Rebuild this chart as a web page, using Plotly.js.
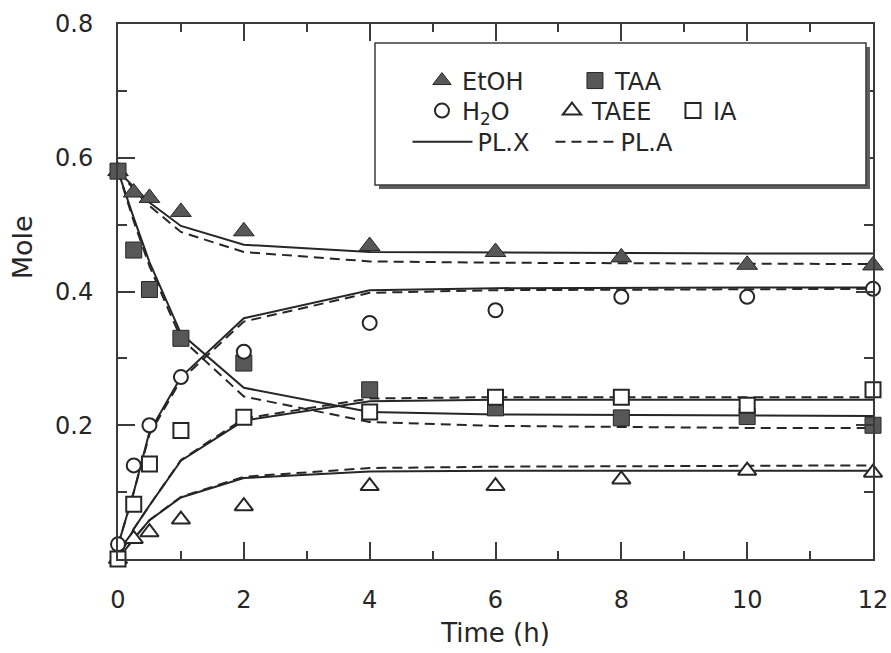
<!DOCTYPE html>
<html>
<head>
<meta charset="utf-8">
<script src="https://cdn.plot.ly/plotly-3.0.1.min.js"></script>
<style>
  html, body { margin: 0; padding: 0; background: #ffffff; }
  #chart { width: 891px; height: 653px; }
</style>
</head>
<body>
<div id="chart"></div>
<script>
// Sampling times (h)
const times = [0, 0.25, 0.5, 1, 2, 4, 6, 8, 10, 12];

// Experimental mole amounts
const etohExp = [0.58, 0.548, 0.540, 0.519, 0.490, 0.468, 0.459, 0.451, 0.440, 0.439];
const taaExp  = [0.58, 0.462, 0.403, 0.330, 0.293, 0.253, 0.226, 0.211, 0.213, 0.200];
const h2oExp  = [0.022, 0.140, 0.200, 0.272, 0.310, 0.353, 0.372, 0.392, 0.392, 0.404];
const taeeExp = [0.0, 0.030, 0.040, 0.059, 0.079, 0.109, 0.109, 0.119, 0.132, 0.129];
const iaExp   = [0.0, 0.082, 0.142, 0.192, 0.212, 0.220, 0.242, 0.242, 0.230, 0.253];

// Model predictions: PL.X (solid) and PL.A (dashed)
const etohPLX = [0.58, 0.556, 0.533, 0.498, 0.470, 0.459, 0.458, 0.457, 0.457, 0.457];
const etohPLA = [0.58, 0.553, 0.528, 0.489, 0.459, 0.445, 0.443, 0.442, 0.441, 0.441];
const taaPLX  = [0.58, 0.510, 0.444, 0.337, 0.256, 0.220, 0.216, 0.215, 0.214, 0.214];
const taaPLA  = [0.58, 0.505, 0.438, 0.330, 0.243, 0.205, 0.199, 0.197, 0.196, 0.196];
const h2oPLX  = [0.02, 0.100, 0.190, 0.272, 0.360, 0.402, 0.405, 0.406, 0.406, 0.406];
const h2oPLA  = [0.02, 0.100, 0.186, 0.268, 0.355, 0.398, 0.402, 0.403, 0.404, 0.404];
const taeePLX = [0.0, 0.030, 0.058, 0.092, 0.121, 0.131, 0.132, 0.132, 0.132, 0.132];
const taeePLA = [0.0, 0.030, 0.058, 0.093, 0.123, 0.136, 0.138, 0.139, 0.140, 0.140];
const iaPLX   = [0.0, 0.045, 0.080, 0.147, 0.207, 0.236, 0.238, 0.238, 0.238, 0.238];
const iaPLA   = [0.0, 0.045, 0.080, 0.148, 0.210, 0.240, 0.242, 0.242, 0.242, 0.242];

// Axis ticks
const xTickVals = [0, 2, 4, 6, 8, 10, 12];
const xTickText = ['0', '2', '4', '6', '8', '10', '12'];
const yTickVals = [0.2, 0.4, 0.6, 0.8];
const yTickText = ['0.2', '0.4', '0.6', '0.8'];

const FONT = 'DejaVu Sans, Verdana, sans-serif';
const INK = '#262626';
const AXIS = '#3a3a3a';
const FILL = '#575757';
const DASH = '10px,6px';

function modelLine(y, dash, name, legendShown, legendId, lw) {
  const t = {
    x: times, y: y, type: 'scatter', mode: 'lines', name: name,
    line: { color: INK, width: 2, dash: dash },
    showlegend: legendShown, legend: legendId, hoverinfo: 'skip'
  };
  if (lw) t.legendwidth = lw;
  return t;
}

function markers(y, name, symbol, size, fill, lineW, legendId, lw) {
  const t = {
    x: times, y: y, type: 'scatter', mode: 'markers', name: name,
    cliponaxis: false,
    marker: { symbol: symbol, size: size, color: fill, line: { color: INK, width: lineW } },
    legend: legendId
  };
  if (lw) t.legendwidth = lw;
  return t;
}

const traces = [
  modelLine(etohPLX, 'solid', 'PL.X', true, 'legend3', 68),
  modelLine(etohPLA, DASH, 'PL.A', true, 'legend3'),
  modelLine(taaPLX, 'solid', 'PL.X', false, 'legend3'),
  modelLine(taaPLA, DASH, 'PL.A', false, 'legend3'),
  modelLine(h2oPLX, 'solid', 'PL.X', false, 'legend3'),
  modelLine(h2oPLA, DASH, 'PL.A', false, 'legend3'),
  modelLine(taeePLX, 'solid', 'PL.X', false, 'legend3'),
  modelLine(taeePLA, DASH, 'PL.A', false, 'legend3'),
  modelLine(iaPLX, 'solid', 'PL.X', false, 'legend3'),
  modelLine(iaPLA, DASH, 'PL.A', false, 'legend3'),
  markers(etohExp, 'EtOH', 'triangle-up', 18, FILL, 1, 'legend', 108),
  markers(taaExp, 'TAA', 'square', 16, FILL, 1, 'legend'),
  markers(h2oExp, 'H<sub>2</sub>O', 'circle', 14, '#ffffff', 2, 'legend2', 85),
  markers(taeeExp, 'TAEE', 'triangle-up', 16, '#ffffff', 2, 'legend2', 76),
  markers(iaExp, 'IA', 'square', 15, '#ffffff', 2, 'legend2')
];

function legendRow(x, y, itemW) {
  return {
    x: x, y: y, xanchor: 'left', yanchor: 'middle', orientation: 'h',
    bgcolor: 'rgba(0,0,0,0)', borderwidth: 0, itemwidth: itemW,
    traceorder: 'normal', itemclick: false, itemdoubleclick: false,
    font: { family: FONT, size: 24, color: INK }
  };
}

const tickCommon = {
  ticks: 'inside', ticklen: 17, tickwidth: 2, tickcolor: AXIS,
  showline: true, linewidth: 2, linecolor: AXIS, mirror: 'allticks',
  showgrid: false, zeroline: false,
  tickfont: { family: FONT, size: 24, color: INK }
};

const layout = {
  width: 891, height: 653,
  margin: { l: 118, r: 18, t: 24, b: 94 },
  paper_bgcolor: '#ffffff', plot_bgcolor: '#ffffff',
  showlegend: true,
  xaxis: Object.assign({}, tickCommon, {
    range: [0, 12], tickmode: 'array', tickvals: xTickVals, ticktext: xTickText,
    ticklabelstandoff: 18,
    minor: { tickmode: 'linear', tick0: 0, dtick: 1, ticks: 'inside', ticklen: 8, tickwidth: 2, tickcolor: AXIS, showgrid: false },
    title: { text: 'Time (h)', font: { family: FONT, size: 26, color: INK }, standoff: 11 }
  }),
  yaxis: Object.assign({}, tickCommon, {
    range: [0, 0.8], tickmode: 'array', tickvals: yTickVals, ticktext: yTickText,
    ticklabelstandoff: 18,
    minor: { tickmode: 'linear', tick0: 0, dtick: 0.1, ticks: 'inside', ticklen: 9, tickwidth: 2, tickcolor: AXIS, showgrid: false }
  }),
  legend: legendRow(0.4026, 0.8935, 30),
  legend2: legendRow(0.4026, 0.8374, 30),
  legend3: legendRow(0.3834, 0.779, 60),
  shapes: [
    // drop shadow of the key box
    { type: 'rect', xref: 'paper', yref: 'paper', x0: 0.3457, x1: 0.996, y0: 0.6916, y1: 0.957,
      fillcolor: '#5e5e5e', line: { width: 0 } },
    // key box
    { type: 'rect', xref: 'paper', yref: 'paper', x0: 0.3404, x1: 0.9907, y0: 0.699, y1: 0.9645,
      fillcolor: '#ffffff', line: { color: AXIS, width: 1.5 } }
  ],
  annotations: [
    { text: 'Mole', xref: 'paper', yref: 'paper', x: -0.127, y: 0.583,
      xanchor: 'center', yanchor: 'middle', textangle: -90, showarrow: false,
      font: { family: FONT, size: 27, color: INK } }
  ]
};

Plotly.newPlot('chart', traces, layout, { staticPlot: true, displayModeBar: false });
</script>
</body>
</html>
